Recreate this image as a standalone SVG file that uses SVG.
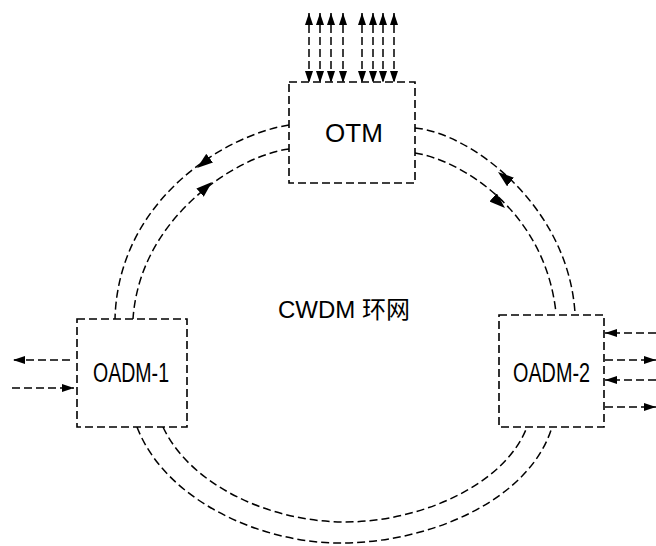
<svg xmlns="http://www.w3.org/2000/svg" width="656" height="546" viewBox="0 0 656 546">
<style>
.d{fill:none;stroke:#000;stroke-width:1.5;stroke-dasharray:8,4}
.b{fill:#fff;stroke:#000;stroke-width:1.6;stroke-dasharray:8,4}
.t{font-family:"Liberation Sans",Arial,sans-serif;fill:#000}
.a{fill:none;stroke:none}
</style>
<defs>
<marker id="ah" viewBox="0 0 12 8" refX="12" refY="4" markerWidth="12" markerHeight="8" markerUnits="userSpaceOnUse" orient="auto-start-reverse">
<path d="M0,0 L12,4 L0,8 z" fill="#000"/>
</marker>
<marker id="big" viewBox="0 0 16 11" refX="16" refY="5.5" markerWidth="16" markerHeight="11" markerUnits="userSpaceOnUse" orient="auto">
<path d="M0,0 L16,5.5 L0,11 z" fill="#000"/>
</marker>
</defs>
<g id="connectors">
<path class="d" d="M289,125 C225,135 118,200 115,319"/>
<path class="d" d="M289,149 C240,155 140,215 133,319"/>
<path class="d" d="M415,128 C470,133 568,205 575,313"/>
<path class="d" d="M415,153 C460,160 545,210 556,313"/>
<path class="d" d="M137,427 C165,500 260,543 340,543 C430,543 530,500 552,427"/>
<path class="d" d="M163,427 C190,485 270,522 345,522 C420,522 505,485 527,427"/>
<path class="a" d="M206,161 L197,168" marker-end="url(#big)"/>
<path class="a" d="M203,190 L212,182" marker-end="url(#big)"/>
<path class="a" d="M508,180 L498,172" marker-end="url(#big)"/>
<path class="a" d="M495,199 L505,208" marker-end="url(#big)"/>
<g>
<path class="d" d="M309,13 V83" marker-start="url(#ah)" marker-end="url(#ah)"/>
<path class="d" d="M320,13 V83" marker-start="url(#ah)" marker-end="url(#ah)"/>
<path class="d" d="M331,13 V83" marker-start="url(#ah)" marker-end="url(#ah)"/>
<path class="d" d="M343,13 V83" marker-start="url(#ah)" marker-end="url(#ah)"/>
<path class="d" d="M362,13 V83" marker-start="url(#ah)" marker-end="url(#ah)"/>
<path class="d" d="M373,13 V83" marker-start="url(#ah)" marker-end="url(#ah)"/>
<path class="d" d="M383,13 V83" marker-start="url(#ah)" marker-end="url(#ah)"/>
<path class="d" d="M394,13 V83" marker-start="url(#ah)" marker-end="url(#ah)"/>
</g>
<path class="d" d="M70,360 H13" marker-end="url(#ah)"/>
<path class="d" d="M12,388 H74" marker-end="url(#ah)"/>
<path class="d" d="M656,333 H605" marker-end="url(#ah)"/>
<path class="d" d="M605,360 H656" marker-end="url(#ah)"/>
<path class="d" d="M656,380 H605" marker-end="url(#ah)"/>
<path class="d" d="M605,407 H656" marker-end="url(#ah)"/>
</g>
<g id="otm">
<rect class="b" x="289" y="82" width="126" height="101"/>
<text class="t" x="354" y="142" font-size="26" text-anchor="middle">OTM</text>
</g>
<g id="oadm1">
<rect class="b" x="77" y="319" width="110" height="108"/>
<text class="t" x="93" y="382" font-size="27" textLength="76" lengthAdjust="spacingAndGlyphs">OADM-1</text>
</g>
<g id="oadm2">
<rect class="b" x="499" y="315" width="105" height="112"/>
<text class="t" x="513" y="382" font-size="27" textLength="77" lengthAdjust="spacingAndGlyphs">OADM-2</text>
</g>
<g id="label">
<text class="t" x="278" y="318" font-size="24" style="font-family:'Liberation Sans','Noto Sans CJK SC',sans-serif">CWDM 环网</text>
</g>
</svg>
